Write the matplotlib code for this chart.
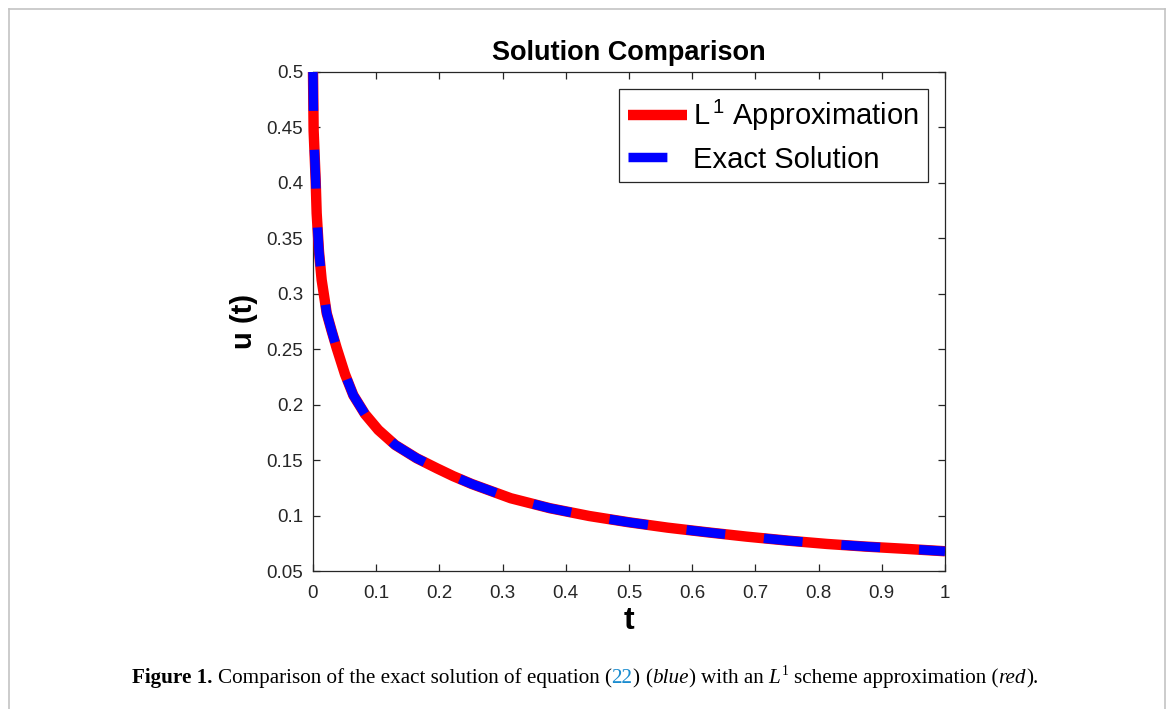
import matplotlib
matplotlib.use("Agg")
import matplotlib.pyplot as plt
from matplotlib import font_manager

# ---------------- data ----------------
t_vals = [0.0, 0.001, 0.0042, 0.0058, 0.0095, 0.0137, 0.0217, 0.0295, 0.0375,
          0.0506, 0.0638, 0.0823, 0.1034, 0.130, 0.164, 0.196, 0.222, 0.251, 0.313,
          0.375, 0.437, 0.499, 0.561, 0.624, 0.686, 0.751, 0.813, 0.875, 0.940, 1.0]
u_approx = [0.5, 0.447, 0.4026, 0.3726, 0.338, 0.3125, 0.2824, 0.2665, 0.2510,
            0.2275, 0.2085, 0.1915, 0.1772, 0.1637, 0.1517, 0.1426, 0.1355, 0.1285, 0.1156,
            0.1066, 0.0996, 0.094, 0.0891, 0.0849, 0.081, 0.0774, 0.0744, 0.072, 0.0699, 0.0678]
u_exact = list(u_approx)

x_ticks = [0, 0.1, 0.2, 0.3, 0.4, 0.5, 0.6, 0.7, 0.8, 0.9, 1.0]
x_tick_labels = ["0", "0.1", "0.2", "0.3", "0.4", "0.5", "0.6", "0.7", "0.8", "0.9", "1"]
y_ticks = [0.05, 0.1, 0.15, 0.2, 0.25, 0.3, 0.35, 0.4, 0.45, 0.5]
y_tick_labels = ["0.05", "0.1", "0.15", "0.2", "0.25", "0.3", "0.35", "0.4", "0.45", "0.5"]

title_text = "Solution Comparison"
xlabel_text = "t"
ylabel_text = "u (t)"
legend_labels = [r"L$^{\,1}$ Approximation", "Exact Solution"]

# ---------------- style ----------------
installed = {f.name for f in font_manager.fontManager.ttflist}
narrow = "Liberation Sans Narrow" if "Liberation Sans Narrow" in installed else None
plt.rcParams["font.family"] = ["Liberation Sans", "DejaVu Sans"]
plt.rcParams["mathtext.fontset"] = "custom"
plt.rcParams["mathtext.rm"] = "Liberation Sans"
plt.rcParams["mathtext.it"] = "Liberation Sans:italic"
plt.rcParams["lines.scale_dashes"] = False

AX_COL = "#262626"
W, H = 1171, 709
fig = plt.figure(figsize=(W / 100, H / 100), dpi=100)
fig.patch.set_facecolor("white")

# page frame (open at bottom)
for xs, ys in [([9, 9], [709, 9]), ([9, 1165], [9, 9]), ([1165, 1165], [9, 709])]:
    fig.add_artist(plt.Line2D([x / W for x in xs], [1 - y / H for y in ys],
                              transform=fig.transFigure, color="#c4c4c4", lw=1.2))

left, right, top, bottom = 313, 945, 72, 571
ax = fig.add_axes([left / W, 1 - bottom / H, (right - left) / W, (bottom - top) / H])

ax.plot(t_vals, u_approx, color="#ff0000", lw=7.5, solid_capstyle="butt",
        solid_joinstyle="round", label=legend_labels[0], zorder=3, clip_on=False)
ax.plot(t_vals, u_exact, color="#0000ff", lw=6.8, linestyle=(0, (28, 28)),
        dash_capstyle="butt", dash_joinstyle="round", label=legend_labels[1],
        zorder=4, clip_on=False)

ax.set_xlim(0, 1)
ax.set_ylim(0.05, 0.5)
ax.set_xticks(x_ticks)
ax.set_xticklabels(x_tick_labels)
ax.set_yticks(y_ticks)
ax.set_yticklabels(y_tick_labels)
ax.tick_params(direction="in", length=5, width=0.9, color=AX_COL, labelcolor=AX_COL,
               labelsize=13.5, top=True, right=True)
ax.tick_params(axis="x", pad=10)
ax.tick_params(axis="y", pad=7)
for s in ax.spines.values():
    s.set_color(AX_COL)
    s.set_linewidth(0.9)

if narrow:
    ax.set_title(title_text, fontsize=22, fontweight="bold", family=[narrow, "DejaVu Sans"],
                 pad=8, color="black")
else:
    ax.set_title(title_text, fontsize=19.5, fontweight="bold", pad=9, color="black")
ax.set_xlabel(xlabel_text, fontsize=23, fontweight="bold", labelpad=3, color="black")
ax.set_ylabel(ylabel_text, fontsize=21, fontweight="bold", labelpad=6, color="black")

leg = ax.legend(loc="upper right", fontsize=21, frameon=True, fancybox=False,
                edgecolor=AX_COL, framealpha=1, handlelength=2.02, handletextpad=0.2,
                borderaxespad=0.6, borderpad=0.3, labelspacing=0.42)
leg.get_frame().set_linewidth(0.9)

# ---------------- caption ----------------
serif = ["Liberation Serif", "DejaVu Serif"]
cap_pieces = [
    ("Figure 1.", "bold", "normal", "black", False),
    (" ", "normal", "normal", "black", False),
    ("Comparison of the exact solution of equation (", "normal", "normal", "black", False),
    ("22", "normal", "normal", "#1a8ccf", False),
    (")", "normal", "normal", "black", False),
    (" ", "normal", "normal", "black", False),
    ("(", "normal", "normal", "black", False),
    ("blue", "normal", "italic", "black", False),
    (")", "normal", "normal", "black", False),
    (" ", "normal", "normal", "black", False),
    ("with an", "normal", "normal", "black", False),
    (" ", "normal", "normal", "black", False),
    ("L", "normal", "italic", "black", False),
    ("1", "normal", "normal", "black", True),
    (" ", "normal", "normal", "black", False),
    ("scheme approximation (", "normal", "normal", "black", False),
    ("red", "normal", "italic", "black", False),
    (").", "normal", "normal", "black", False),
]

renderer = fig.canvas.get_renderer()
cap_fs = 14.0
cap_y = 1 - 683 / H


def measure(txt, fs, weight, style):
    if txt == " ":
        a = fig.text(0, 0, "a a", fontsize=fs, family=serif, weight=weight, style=style)
        b = fig.text(0, 0, "aa", fontsize=fs, family=serif, weight=weight, style=style)
        w = a.get_window_extent(renderer).width - b.get_window_extent(renderer).width
        a.remove(); b.remove()
        return w
    a = fig.text(0, 0, txt, fontsize=fs, family=serif, weight=weight, style=style)
    w = a.get_window_extent(renderer).width
    a.remove()
    return w


def total_width(fs):
    tot = 0
    for txt, wt, st, col, sup in cap_pieces:
        tot += measure(txt, fs * (0.65 if sup else 1), wt, st) + (1.5 if sup else 0)
    return tot

target = 1041 - 132
cap_fs = cap_fs * target / total_width(cap_fs)
x = 132.0
for txt, wt, st, col, sup in cap_pieces:
    fs = cap_fs * (0.65 if sup else 1)
    w = measure(txt, fs, wt, st)
    if sup:
        x += 1.5
    if txt != " ":
        fig.text(x / W, cap_y + (8 / H if sup else 0), txt, fontsize=fs, family=serif,
                 weight=wt, style=st, color=col, ha="left", va="baseline")
    x += w

fig.savefig("out.png", dpi=100, facecolor="white")
